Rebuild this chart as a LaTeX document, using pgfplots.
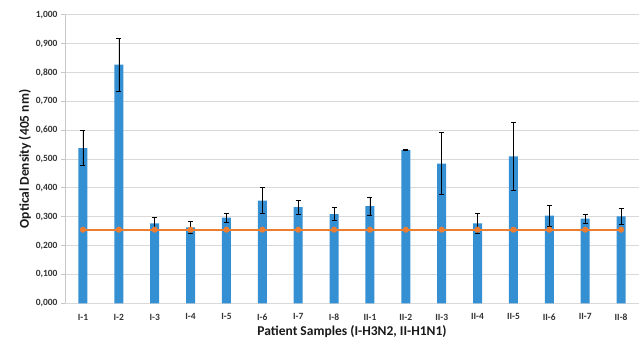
\documentclass[border=0pt]{standalone}
\usepackage{pgfplots}
\pgfplotsset{compat=1.18}
\usepackage{fontspec}
\setmainfont{Carlito}
\definecolor{barblue}{HTML}{3590D3}
\definecolor{lineorange}{HTML}{ED7D31}
\definecolor{gridgray}{HTML}{D9D9D9}
\definecolor{txtgray}{HTML}{333333}
\begin{document}
\begin{tikzpicture}
\begin{axis}[
  name=ax, at={(0,0)}, anchor=south west,
  scale only axis, width=574pt, height=288.6pt,
  xmin=-0.5, xmax=15.5, ymin=0, ymax=1,
  xtick={0,...,15},
  xticklabels={I-1,I-2,I-3,I-4,I-5,I-6,I-7,I-8,II-1,II-2,II-3,II-4,II-5,II-6,II-7,II-8},
  ytick={0,0.1,...,1.0},
  yticklabel={\pgfmathprintnumber[fixed,fixed zerofill,precision=3,use comma]{\tick}},
  /pgf/number format/assume math mode=true,
  ticklabel style={font=\bfseries\fontsize{9.5}{11}\selectfont, text=txtgray},
  ymajorgrids, grid style={gridgray, line width=0.9pt},
  axis x line*=bottom, axis y line*=left,
  x axis line style={draw=gridgray, line width=0.9pt},
  y axis line style={draw=gridgray!80!gray, line width=0.8pt},
  xtick style={draw=none},
  ytick style={draw=gridgray!80!gray, line width=0.8pt},
  tick align=outside, major tick length=4pt,
  x tick label style={yshift=-3pt},
  xlabel={Patient Samples (I-H3N2, II-H1N1)},
  ylabel={Optical Density (405 nm)},
  label style={font=\bfseries\fontsize{13.5}{16}\selectfont, text=black!90},
  xlabel style={yshift=2pt},
  ylabel style={yshift=-2pt},
  clip=false,
]
\addplot[ybar, bar width=9pt, fill=barblue, draw=none,
  error bars/.cd, y dir=both, y explicit,
  error bar style={black, line width=0.6pt},
  error mark options={rotate=90, mark size=2.5pt, black, line width=0.6pt}]
  table[x=x, y=y, y error=e] {
x y e
0 0.538 0.060
1 0.827 0.091
2 0.277 0.020
3 0.263 0.021
4 0.297 0.016
5 0.356 0.045
6 0.333 0.025
7 0.309 0.022
8 0.337 0.032
9 0.532 0.003
10 0.484 0.107
11 0.277 0.035
12 0.509 0.119
13 0.304 0.036
14 0.293 0.017
15 0.301 0.027
};
\addplot[lineorange, line width=1.6pt, mark=*, mark size=2.2pt, mark options={fill=lineorange, draw=lineorange}]
  coordinates {(0,0.255) (1,0.255) (2,0.255) (3,0.255) (4,0.255) (5,0.255) (6,0.255) (7,0.255) (8,0.255) (9,0.255) (10,0.255) (11,0.255) (12,0.255) (13,0.255) (14,0.255) (15,0.255)};
\end{axis}
\pgfresetboundingbox
\path[use as bounding box] (-65pt,-41.7pt) rectangle (574pt,303.3pt);
\end{tikzpicture}
\end{document}
